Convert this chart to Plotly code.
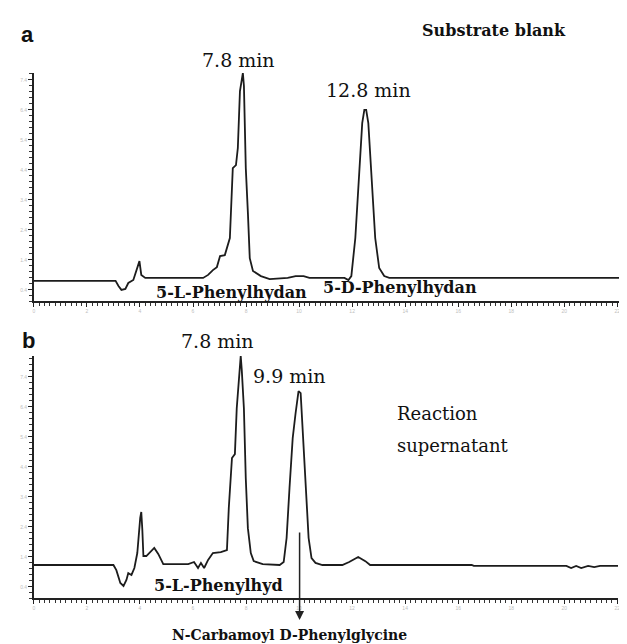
import plotly.graph_objects as go

W, H = 627, 644

# ---- Data (retention time in min, detector response in arbitrary units) ----
time_a = [0, 3.08, 3.19, 3.30, 3.45, 3.56, 3.75, 3.86, 3.98, 4.05, 4.20, 6.38, 6.57, 6.75, 6.90,
          7.02, 7.20, 7.39, 7.50, 7.62, 7.69, 7.77, 7.88, 7.92, 7.99, 8.07, 8.14, 8.26, 8.56, 8.89,
          9.57, 9.87, 10.17, 10.39, 11.71, 11.86, 11.97, 12.12, 12.27, 12.38, 12.46, 12.53, 12.61,
          12.72, 12.87, 13.02, 13.21, 13.40, 22.59]
signal_a = [0.67, 0.67, 0.50, 0.37, 0.40, 0.60, 0.70, 1.00, 1.33, 0.87, 0.77, 0.77, 0.87, 1.03, 1.13,
            1.50, 1.53, 2.10, 4.43, 4.53, 5.10, 7.00, 7.60, 7.17, 4.43, 2.93, 1.43, 1.00, 0.83, 0.73,
            0.77, 0.83, 0.83, 0.77, 0.77, 0.70, 0.83, 2.10, 4.43, 5.93, 6.37, 6.37, 5.93,
            4.43, 2.10, 1.10, 0.83, 0.77, 0.77]

time_b = [0, 3.00, 3.11, 3.26, 3.38, 3.49, 3.56, 3.68, 3.79, 3.90, 4.01, 4.05, 4.09, 4.13, 4.24,
          4.39, 4.54, 4.69, 4.88, 5.82, 6.04, 6.19, 6.30, 6.42, 6.57, 6.75, 7.05, 7.28, 7.35, 7.47,
          7.58, 7.65, 7.73, 7.80, 7.84, 7.92, 7.99, 8.07, 8.18, 8.29, 8.63, 9.27, 9.42, 9.53, 9.64,
          9.76, 9.87, 9.98, 10.06, 10.13, 10.24, 10.36, 10.47, 10.62, 10.88, 11.63, 11.89, 12.23,
          12.50, 12.68, 16.51, 16.59, 20.08, 20.26, 20.45, 20.64, 20.90, 21.13, 21.35, 22.03]
signal_b = [1.10, 1.10, 0.93, 0.50, 0.40, 0.60, 0.83, 0.77, 1.00, 1.50, 2.67, 2.87, 2.27, 1.40, 1.40,
            1.53, 1.67, 1.47, 1.13, 1.13, 1.20, 1.00, 1.17, 1.00, 1.27, 1.50, 1.53, 1.60, 3.00, 4.67,
            4.80, 6.33, 7.33, 8.07, 7.60, 6.33, 4.00, 2.33, 1.50, 1.23, 1.13, 1.10, 1.20, 2.00, 3.67,
            5.33, 6.17, 6.90, 6.83, 5.67, 3.67, 2.00, 1.33, 1.17, 1.10, 1.10, 1.20, 1.37,
            1.23, 1.10, 1.10, 1.07, 1.07, 1.00, 1.07, 1.00, 1.07, 1.03, 1.07, 1.07]

x_range_a = [0, 22.59]
y_range_a = [0, 7.6]
x_range_b = [0, 22.03]
y_range_b = [0, 8.07]

arrow_time = 10.02  # N-Carbamoyl D-Phenylglycine peak marker

fig = go.Figure()
line_style = dict(color="#1c1c1c", width=1.8)
fig.add_trace(go.Scatter(x=time_a, y=signal_a, mode="lines", line=line_style,
                         xaxis="x", yaxis="y", showlegend=False, cliponaxis=False))
fig.add_trace(go.Scatter(x=time_b, y=signal_b, mode="lines", line=line_style,
                         xaxis="x2", yaxis="y2", showlegend=False, cliponaxis=False))

def px(x):
    return x / W

def py(y):
    return 1 - y / H

tickfont = dict(size=5, color="#c0c0c0", family="Liberation Sans")
xcommon = dict(showline=True, linecolor="#222", linewidth=1.6, ticks="outside", ticklen=4,
               tickwidth=1.3, tickcolor="#222", dtick=2, tick0=0, showgrid=False, zeroline=False,
               tickfont=tickfont,
               minor=dict(ticks="outside", ticklen=3, dtick=0.2, tickcolor="#333", tickwidth=1))
ycommon = dict(showline=True, linecolor="#222", linewidth=1.6, ticks="outside", ticklen=4,
               tickwidth=1.3, tickcolor="#222", dtick=1, tick0=0.37, showgrid=False, zeroline=False,
               tickfont=tickfont, tickformat=".1f",
               minor=dict(ticks="outside", ticklen=3, dtick=0.2, tickcolor="#333", tickwidth=1))

fig.update_layout(
    width=W, height=H, margin=dict(l=0, r=0, t=0, b=0),
    paper_bgcolor="white", plot_bgcolor="white",
    xaxis=dict(domain=[px(25), 1.0], range=x_range_a, anchor="y", **xcommon),
    yaxis=dict(domain=[py(293), py(65)], range=y_range_a, anchor="x", **ycommon),
    xaxis2=dict(domain=[px(25), px(612)], range=x_range_b, anchor="y2", **xcommon),
    yaxis2=dict(domain=[py(590), py(348)], range=y_range_b, anchor="x2", **ycommon),
)

serif = "DejaVu Serif"
def label(text, x, y, size, bold=False, family=serif, xanchor="center"):
    t = f"<b>{text}</b>" if bold else text
    fig.add_annotation(text=t, x=px(x), y=py(y), xref="paper", yref="paper",
                       showarrow=False, xanchor=xanchor, yanchor="middle",
                       font=dict(size=size, family=family, color="#111"))

label("a", 19, 27, 22, bold=True, family="Liberation Sans")
label("b", 20, 333, 22, bold=True, family="Liberation Sans")
label("7.8 min", 231, 52, 19)
label("Substrate blank", 487, 23, 16, bold=True)
label("12.8 min", 361, 82, 19)
label("5-L-Phenylhydan", 224, 284, 16, bold=True)
label("5-D-Phenylhydan", 393, 280, 16, bold=True)
label("7.8 min", 210, 333, 19)
label("9.9 min", 282, 368, 19)
label("Reaction", 388, 405, 18, xanchor="left")
label("supernatant", 388, 437, 18, xanchor="left")
label("5-L-Phenylhyd", 211, 577, 16, bold=True)
label("N-Carbamoyl D-Phenylglycine", 282, 627, 14, bold=True)

# arrow pointing down from the 9.9 min peak
fig.add_annotation(x=arrow_time, y=py(612), xref="x2", yref="paper", text="",
                   showarrow=True, arrowhead=2, arrowsize=1.2, arrowwidth=1.5,
                   arrowcolor="#222", ax=0, ay=-89)

fig.write_html("out.html")
